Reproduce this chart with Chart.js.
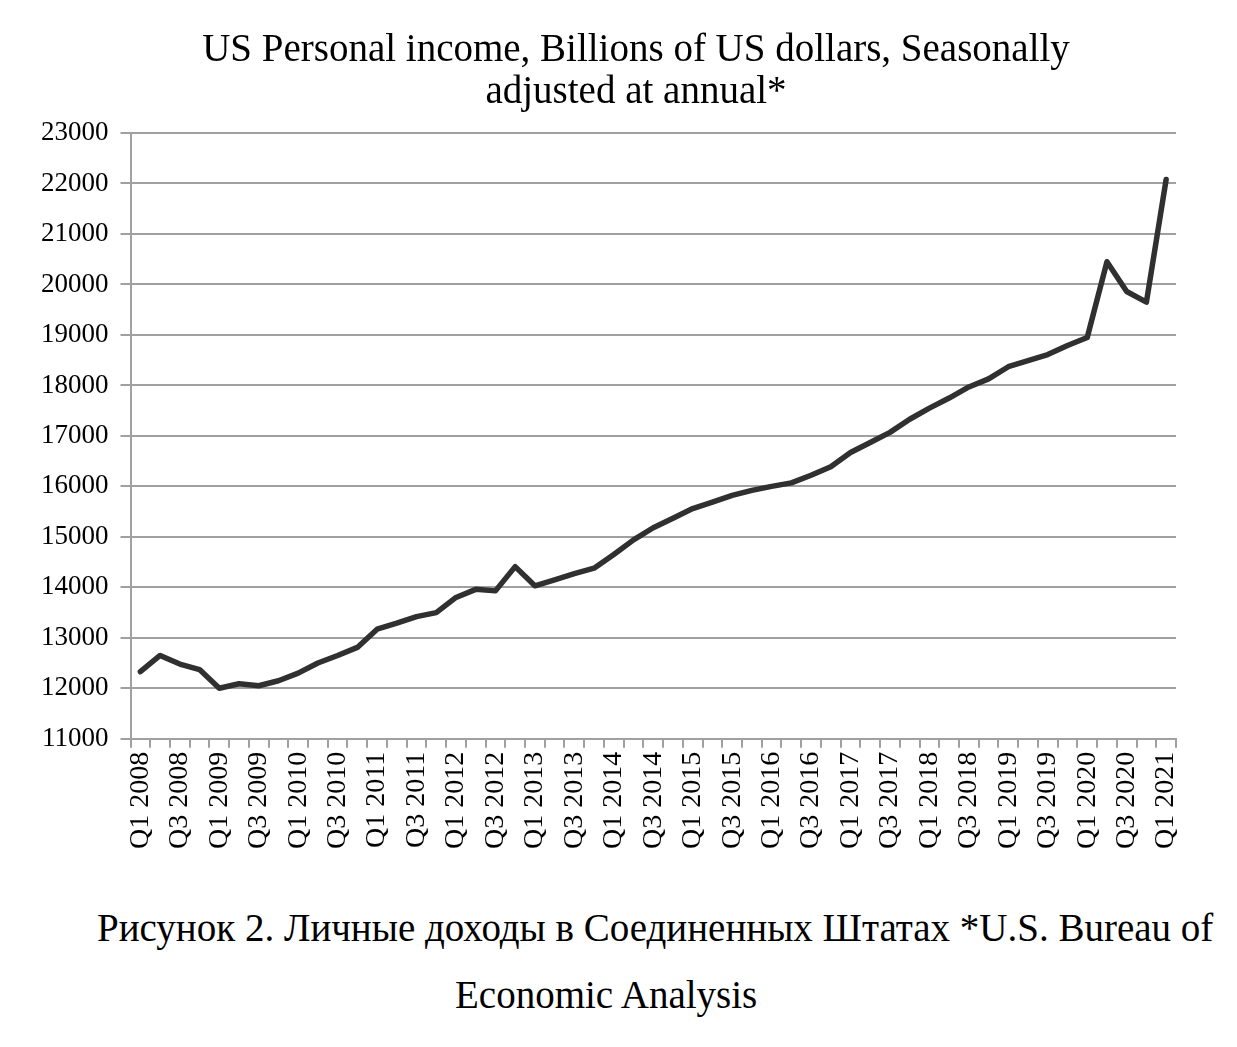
<!DOCTYPE html>
<html>
<head>
<meta charset="utf-8">
<script src="https://cdn.jsdelivr.net/npm/chart.js@4.4.1/dist/chart.umd.min.js"></script>
<style>
  html, body { margin:0; padding:0; background:#fff; }
  #wrap { position:relative; width:1237px; height:1047px; font-family:"Liberation Serif", "Times New Roman", serif; color:#000; }
  #box { position:absolute; left:0; top:0; width:1237px; height:870px; }
  .title { position:absolute; left:0; width:1272px; text-align:center; font-size:39px; line-height:42px; }
  .cap { position:absolute; font-size:39px; line-height:44px; white-space:nowrap; }
</style>
</head>
<body>
<div id="wrap">
  <div id="box"><canvas id="c"></canvas></div>
  <div class="title" style="top:27px">US Personal income, Billions of US dollars, Seasonally<br>adjusted at annual*</div>
  <div class="cap" style="left:97px; top:906px">Рисунок 2. Личные доходы в Соединенных Штатах *U.S. Bureau of</div>
  <div class="cap" style="left:455px; top:973px">Economic Analysis</div>
</div>
<script>
// quarters Q1 2008 .. Q1 2021
const years = [2008,2009,2010,2011,2012,2013,2014,2015,2016,2017,2018,2019,2020,2021];
const quarters = [];
years.forEach(y => { for (let q = 1; q <= 4; q++) { if (y === 2021 && q > 1) break; quarters.push('Q' + q + ' ' + y); } });

// personal income, billions USD
const income = [
  12330, 12650, 12480, 12370, 12000, 12090, 12050, 12150,
  12300, 12500, 12650, 12810, 13170, 13290, 13420, 13500,
  13800, 13960, 13930, 14410, 14030, 14150, 14270, 14380,
  14650, 14940, 15180, 15370, 15560, 15690, 15820, 15920,
  16000, 16070, 16220, 16390, 16670, 16870, 17070, 17330,
  17550, 17750, 17970, 18130, 18370, 18490, 18610, 18790,
  18950, 20450, 19860, 19650, 22080
];
const yTicks = [11000, 23000, 1000]; // min, max, step

const gridGrey = '#a0a0a0';

new Chart(document.getElementById('c'), {
  type: 'line',
  data: {
    labels: quarters,
    datasets: [{
      data: income,
      borderColor: '#303030',
      borderWidth: 5.5,
      borderCapStyle: 'round',
      borderJoinStyle: 'round',
      pointRadius: 0,
      tension: 0,
      fill: false
    }]
  },
  options: {
    responsive: true,
    maintainAspectRatio: false,
    animation: false,
    layout: { padding: { top: 133, left: 29, right: 61, bottom: 17 } },
    plugins: { legend: { display: false }, tooltip: { enabled: false } },
    scales: {
      x: {
        offset: true,
        grid: { offset: true, drawOnChartArea: false, drawTicks: true, tickLength: 9, color: gridGrey, lineWidth: 2 },
        border: { color: gridGrey, width: 2 },
        ticks: {
          autoSkip: false, maxRotation: 90, minRotation: 90, padding: 4,
          color: '#000',
          font: { family: '"Liberation Serif", serif', size: 28 },
          callback: (v, i) => (i % 2 === 0 ? quarters[i] : '')
        }
      },
      y: {
        min: yTicks[0], max: yTicks[1],
        grid: { color: gridGrey, lineWidth: 2, tickLength: 10 },
        border: { color: gridGrey, width: 2 },
        ticks: {
          stepSize: yTicks[2], padding: 12, color: '#000',
          font: { family: '"Liberation Serif", serif', size: 27 },
          callback: v => String(v)
        }
      }
    }
  }
});
</script>
</body>
</html>
